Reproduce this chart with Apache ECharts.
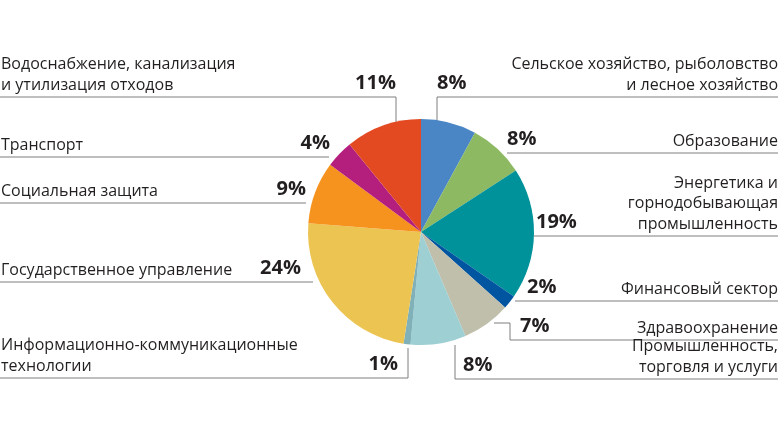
<!DOCTYPE html>
<html><head><meta charset="utf-8">
<script src="https://cdn.jsdelivr.net/npm/echarts@6/dist/echarts.min.js"></script>
<style>html,body{margin:0;padding:0;background:#fff}#c{width:780px;height:439px}</style>
</head><body><div id="c"></div>
<script>
// ---- data ----
const categories = [
  'Сельское хозяйство, рыболовство\nи лесное хозяйство',
  'Образование',
  'Энергетика и\nгорнодобывающая\nпромышленность',
  'Финансовый сектор',
  'Здравоохранение',
  'Промышленность,\nторговля и услуги',
  'Информационно-коммуникационные\nтехнологии',
  'Государственное управление',
  'Социальная защита',
  'Транспорт',
  'Водоснабжение, канализация\nи утилизация отходов'
];
const shares = [8, 8, 19, 2, 7, 8, 1, 24, 9, 4, 11];
const sliceColors = ['#4a86c5', '#8cb962', '#00929a', '#0055a0', '#bfbfab', '#9dcfd3',
                     '#80b1b9', '#ecc452', '#f6921e', '#b41e7d', '#e34a21'];

// ---- label layout (positions only) ----
const RIGHT_EDGE = 778;
const labelLayouts = [
  {side: 'right', pct: 437, lineY: 97,  pts: [[437, 121], [437, 97], [RIGHT_EDGE, 97]]},
  {side: 'right', pct: 507, lineY: 153, pts: [[507, 153], [RIGHT_EDGE, 153]]},
  {side: 'right', pct: 536, lineY: 236, pts: [[534, 236], [RIGHT_EDGE, 236]]},
  {side: 'right', pct: 527, lineY: 301, pts: [[515, 301], [RIGHT_EDGE, 301]]},
  {side: 'right', pct: 520, lineY: 340, pts: [[494, 323], [510, 323], [510, 340], [RIGHT_EDGE, 340]]},
  {side: 'right', pct: 463, lineY: 379, pts: [[455, 345], [455, 379], [RIGHT_EDGE, 379]]},
  {side: 'left',  pct: 398, lineY: 378, pts: [[408, 348], [408, 378], [0, 378]]},
  {side: 'left',  pct: 301, lineY: 282, pts: [[313, 282], [0, 282]]},
  {side: 'left',  pct: 306, lineY: 203, pts: [[306, 203], [0, 203]]},
  {side: 'left',  pct: 330, lineY: 157, pts: [[329, 157], [0, 157]]},
  {side: 'left',  pct: 396, lineY: 97,  pts: [[396, 122], [396, 97], [0, 97]]}
];

const FONT = 'Open Sans';
const TEXT = '#231f20';

function labelText(i) {
  const lines = categories[i].split('\n');
  const pct = shares[i] + '%';
  const last = lines.length - 1;
  const L = labelLayouts[i];
  return lines.map(function (l, k) {
    if (L.side === 'left') {
      return k === last ? '{n|' + l + '}{p|' + pct + '}' : '{n|' + l + '}';
    }
    return k === last ? '{pl|' + pct + '}{r|' + l + '}' : '{r|' + l + '}';
  }).join('\n');
}

function boxOf(i) {
  const L = labelLayouts[i];
  if (L.side === 'left') return {x: 1, width: L.pct - 1};
  return {x: L.pct, width: RIGHT_EDGE - L.pct};
}

const data = categories.map(function (c, i) {
  return {
    name: c,
    value: shares[i],
    itemStyle: {color: sliceColors[i]},
    label: {width: boxOf(i).width}
  };
});

const chart = echarts.init(document.getElementById('c'), null, {renderer: 'canvas'});
chart.setOption({
  animation: false,
  backgroundColor: '#ffffff',
  series: [{
    type: 'pie',
    center: [421, 232],
    radius: 113,
    startAngle: 90,
    clockwise: true,
    avoidLabelOverlap: false,
    data: data,
    itemStyle: {borderWidth: 0},
    emphasis: {disabled: true},
    label: {
      show: true,
      position: 'outside',
      overflow: 'none',
      formatter: function (p) { return labelText(p.dataIndex); },
      rich: {
        n:  {fontFamily: FONT, fontSize: 16, color: TEXT, lineHeight: 20.5, align: 'left', verticalAlign: 'bottom'},
        r:  {fontFamily: FONT, fontSize: 16, color: TEXT, lineHeight: 20.5, align: 'right', verticalAlign: 'bottom'},
        p:  {fontFamily: FONT, fontSize: 20, fontWeight: 'bold', color: TEXT, lineHeight: 20.5, align: 'right', verticalAlign: 'bottom'},
        pl: {fontFamily: FONT, fontSize: 20, fontWeight: 'bold', color: TEXT, lineHeight: 20.5, align: 'left', verticalAlign: 'bottom'}
      }
    },
    labelLine: {
      show: true,
      smooth: false,
      length: 5,
      length2: 5,
      lineStyle: {color: '#7f7f7f', width: 1}
    },
    labelLayout: function (params) {
      const i = params.dataIndex;
      const L = labelLayouts[i];
      const b = boxOf(i);
      return {
        x: b.x,
        y: L.lineY - 4,
        align: 'left',
        verticalAlign: 'bottom',
        width: b.width,
        labelLinePoints: L.pts
      };
    }
  }]
});
</script>
</body></html>
